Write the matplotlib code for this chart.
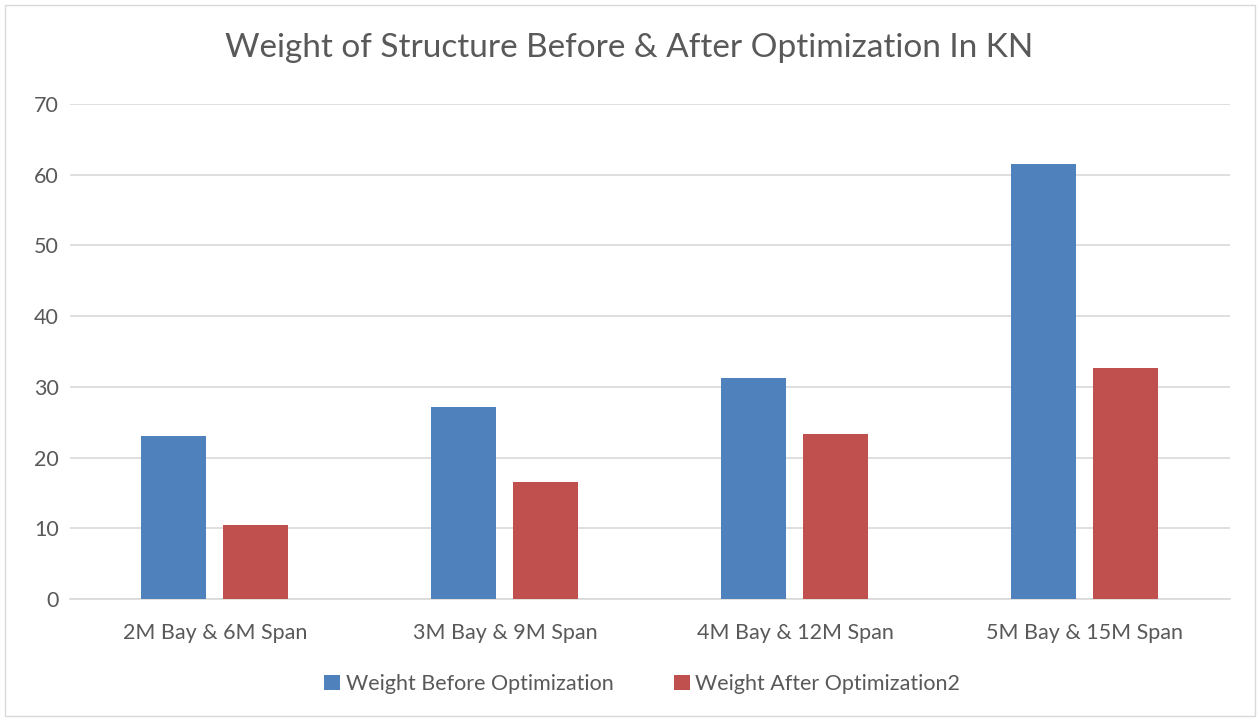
import matplotlib.pyplot as plt
import numpy as np
from matplotlib.patches import Rectangle

categories = ['2M Bay & 6M Span', '3M Bay & 9M Span', '4M Bay & 12M Span', '5M Bay & 15M Span']
before = [23.1, 27.2, 31.3, 61.5]
after = [10.5, 16.6, 23.4, 32.7]

plt.rcParams['font.family'] = ['Lato', 'DejaVu Sans']
txt = '#595959'

fig = plt.figure(figsize=(12.59, 7.18), dpi=100)
ax = fig.add_axes([70 / 1259, 1 - 599 / 718, 1160 / 1259, 495 / 718])

x = np.arange(len(categories))
w = 0.224
ax.bar(x - 0.143, before, w, color='#4F81BD', label='Weight Before Optimization', zorder=3)
ax.bar(x + 0.141, after, w, color='#C0504D', label='Weight After Optimization2', zorder=3)

ax.set_xlim(-0.5, 3.5)
ax.set_ylim(0, 70)
ax.set_yticks(range(0, 71, 10))
ax.set_xticks(x)
ax.set_xticklabels(categories)
ax.grid(axis='y', color='#D9D9D9', linewidth=1.2, zorder=0)
for s in ['top', 'right', 'left']:
    ax.spines[s].set_visible(False)
ax.spines['bottom'].set_color('#D9D9D9')
ax.spines['bottom'].set_linewidth(1.2)
ax.tick_params(axis='both', length=0, labelsize=15.5, colors=txt)
ax.tick_params(axis='y', pad=8)
ax.tick_params(axis='x', pad=17)

fig.text(0.5, 1 - 48 / 718, 'Weight of Structure Before & After Optimization In KN',
         ha='center', va='center', fontsize=24, color=txt)

fig.legend(loc='center', bbox_to_anchor=(0.51, 1 - 684 / 718), ncol=2, frameon=False,
           fontsize=15.5, labelcolor=txt, handlelength=0.75, handleheight=0.75,
           handletextpad=0.25, columnspacing=2.8)

fig.patches.append(Rectangle((5 / 1259, 2 / 718), 1250 / 1259, 711 / 718, transform=fig.transFigure,
                             fill=False, edgecolor='#D9D9D9', linewidth=1))

plt.savefig('out.png', dpi=100)
